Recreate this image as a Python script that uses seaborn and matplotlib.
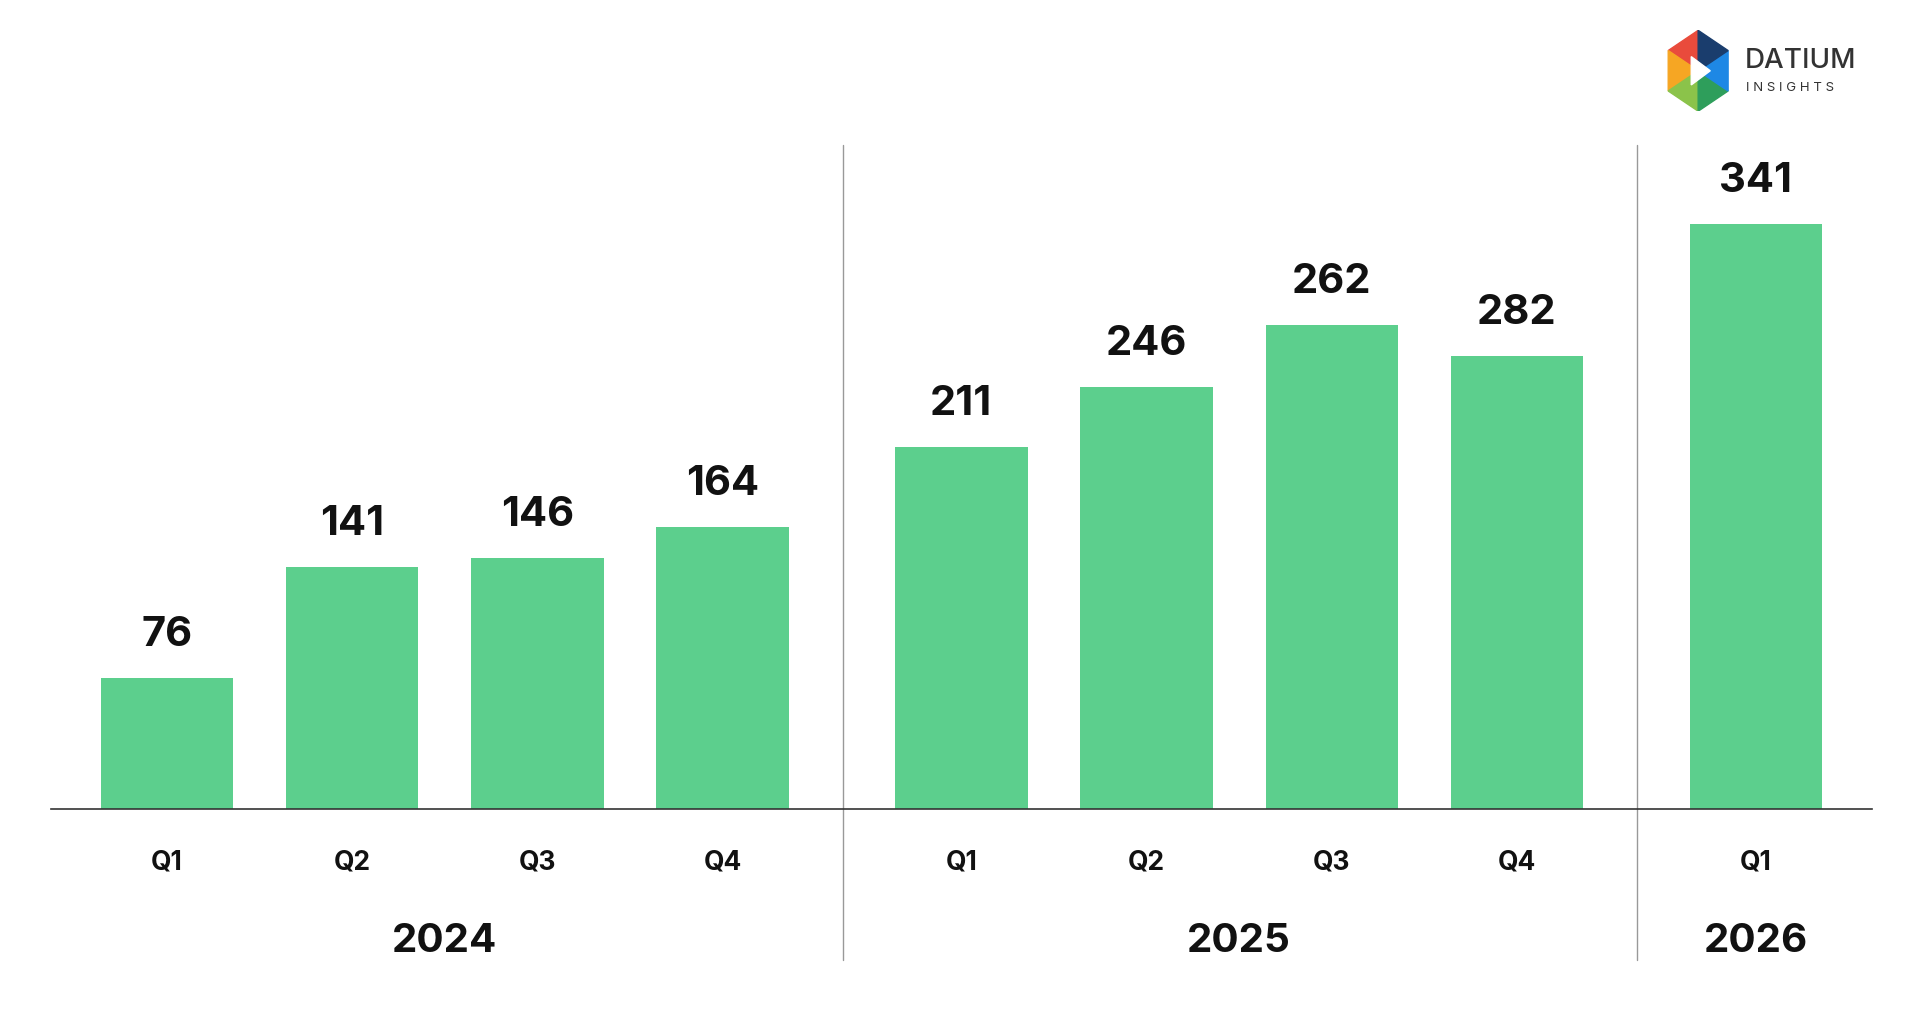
import matplotlib
matplotlib.use("Agg")
import matplotlib.pyplot as plt
import seaborn as sns
import numpy as np
from matplotlib.patches import Polygon

sns.set_theme(style="white")
plt.rcParams['font.family'] = ['Inter', 'DejaVu Sans']

quarters = ["Q1", "Q2", "Q3", "Q4", "Q1", "Q2", "Q3", "Q4", "Q1"]
years = ["2024", "2024", "2024", "2024", "2025", "2025", "2025", "2025", "2026"]
bar_heights = [76, 141, 146, 164, 211, 246, 282, 264, 341]
value_labels = ["76", "141", "146", "164", "211", "246", "262", "282", "341"]
year_labels = ["2024", "2025", "2026"]

GAP = 0.29
order = {y: i for i, y in enumerate(year_labels)}
pos = [i + GAP * order[y] for i, y in enumerate(years)]

fig = plt.figure(figsize=(19.21, 10.11), dpi=100)
ax = fig.add_axes([0.0263, 0.2, 0.9747 - 0.0263, 0.679])
sns.barplot(x=pos, y=bar_heights, native_scale=True, color="#5ccf8d", saturation=1,
            width=0.715, ax=ax, edgecolor="none")
ax.set_xlim(-0.629, 9.21)
ax.set_ylim(0, 400)
for s in ["top", "right", "left"]:
    ax.spines[s].set_visible(False)
ax.spines["bottom"].set_color("#333333")
ax.spines["bottom"].set_linewidth(1.2)
ax.set_xticks([]); ax.set_yticks([])
ax.set_xlabel(""); ax.set_ylabel("")

for x, h, lab, q in zip(pos, bar_heights, value_labels, quarters):
    ax.text(x, h + 14, lab, ha="center", va="bottom", fontsize=30, fontweight="bold", color="#111111")
    ax.text(x, -0.078, q, transform=ax.get_xaxis_transform(), ha="center", va="center",
            fontsize=19, fontweight="bold", color="#111111")

for y in year_labels:
    xs = [p for p, yy in zip(pos, years) if yy == y]
    ax.text(np.mean(xs), -0.193, y, transform=ax.get_xaxis_transform(), ha="center", va="center",
            fontsize=29, fontweight="bold", color="#111111")

for sx in [3.65, 7.94]:
    ax.plot([sx, sx], [-0.22, 0.967], transform=ax.get_xaxis_transform(), color="#999999",
            lw=1, clip_on=False)

# logo
lax = fig.add_axes([0.866, 0.89, 0.036, 0.08])
lax.set_xlim(-1, 1); lax.set_ylim(-1, 1); lax.axis("off")
cols = ["#e94b3c", "#f6a623", "#8bc34a", "#2e9e5b", "#1e88e5", "#1a3d6d"]
ang = np.deg2rad(np.arange(90, 450, 60))
for i in range(6):
    p = [(0, 0), (np.cos(ang[i]), np.sin(ang[i])), (np.cos(ang[(i + 1) % 6]), np.sin(ang[(i + 1) % 6]))]
    lax.add_patch(Polygon(p, color=cols[i]))
lax.add_patch(Polygon([(-0.2, 0.35), (-0.2, -0.35), (0.35, 0)], color="white"))
fig.text(0.908, 0.94, "DATIUM", fontsize=20, fontweight="medium", color="#333333", va="center")
fig.text(0.909, 0.913, "I N S I G H T S", fontsize=9.5, color="#333333", va="center")

fig.savefig("out.png", dpi=100, facecolor="white")
